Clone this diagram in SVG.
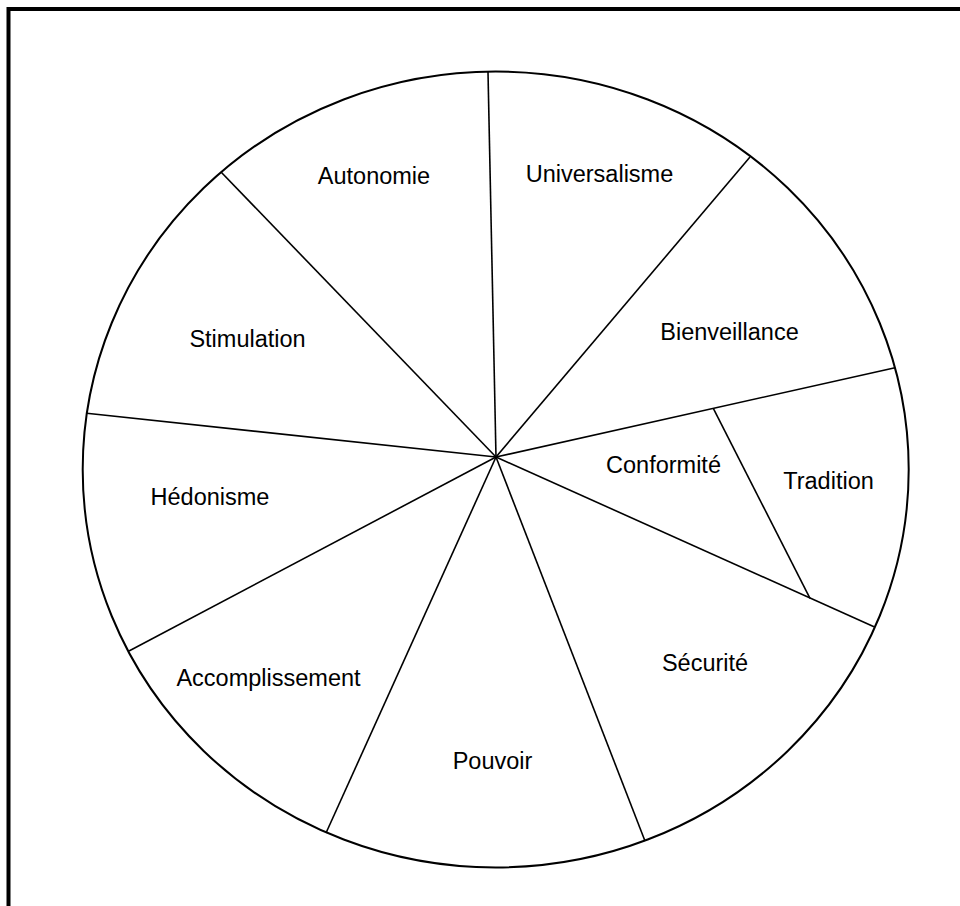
<svg xmlns="http://www.w3.org/2000/svg" width="960" height="906" viewBox="0 0 960 906">
  <style>
    .frame { fill: none; stroke: #000; stroke-width: 4; }
    .wheel { fill: none; stroke: #000; stroke-width: 2; }
    .spoke { stroke: #000; stroke-width: 1.6; fill: none; }
    .label { font-family: "Liberation Sans", Arial, sans-serif; font-size: 23.5px; fill: #000; text-anchor: middle; }
  </style>
  <rect width="960" height="906" fill="#fff"/>
  <!-- outer frame, open to the right and bottom -->
  <rect class="frame" x="8.5" y="9" width="980" height="940"/>

  <!-- value wheel -->
  <ellipse class="wheel" cx="495.7" cy="469.5" rx="413" ry="398"/>

  <g id="connectors">
    <line class="spoke" x1="496" y1="457" x2="488" y2="72"/>
    <line class="spoke" x1="496" y1="457" x2="750" y2="157"/>
    <line class="spoke" x1="496" y1="457" x2="895" y2="367.7"/>
    <line class="spoke" x1="496" y1="457" x2="874" y2="626.7"/>
    <line class="spoke" x1="496" y1="457" x2="645" y2="841"/>
    <line class="spoke" x1="496" y1="457" x2="326" y2="833"/>
    <line class="spoke" x1="496" y1="457" x2="129" y2="651"/>
    <line class="spoke" x1="496" y1="457" x2="86.7" y2="413.3"/>
    <line class="spoke" x1="496" y1="457" x2="221" y2="172"/>
    <line class="spoke" x1="713.3" y1="408.3" x2="810" y2="598.3"/>
  </g>

  <g id="autonomie"><text class="label" x="374" y="184">Autonomie</text></g>
  <g id="universalisme"><text class="label" x="599.5" y="182">Universalisme</text></g>
  <g id="bienveillance"><text class="label" x="729.5" y="340">Bienveillance</text></g>
  <g id="stimulation"><text class="label" x="247.5" y="347">Stimulation</text></g>
  <g id="conformite"><text class="label" x="663.5" y="473">Conformité</text></g>
  <g id="tradition"><text class="label" x="828.5" y="489">Tradition</text></g>
  <g id="hedonisme"><text class="label" x="210" y="505">Hédonisme</text></g>
  <g id="securite"><text class="label" x="705" y="671">Sécurité</text></g>
  <g id="accomplissement"><text class="label" x="268.5" y="686">Accomplissement</text></g>
  <g id="pouvoir"><text class="label" x="492.5" y="769">Pouvoir</text></g>
</svg>
